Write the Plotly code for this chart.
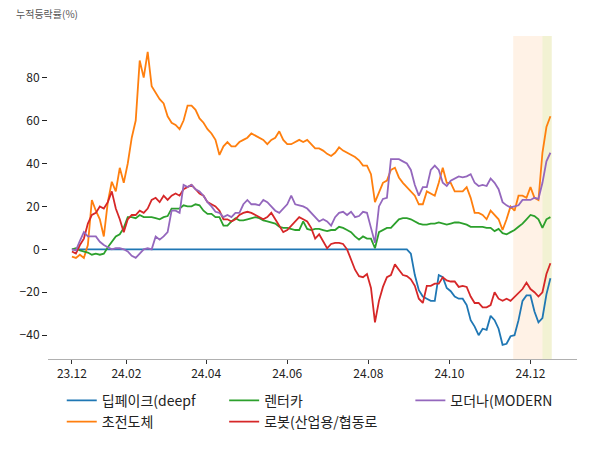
"""
Cumulative return chart by theme (Plotly)
"""
import pandas as pd
import plotly.graph_objects as go

# sample dates: every 3 days from start to end of data
dates = pd.date_range("2023-12-22", periods=121, freq="3D")

deepfake = [
    0, 0, 0, 0, 0, 0, 0, 0, 0, 0,
    0, 0, 0, 0, 0, 0, 0, 0, 0, 0,
    0, 0, 0, 0, 0, 0, 0, 0, 0, 0,
    0, 0, 0, 0, 0, 0, 0, 0, 0, 0,
    0, 0, 0, 0, 0, 0, 0, 0, 0, 0,
    0, 0, 0, 0, 0, 0, 0, 0, 0, 0,
    0, 0, 0, 0, 0, 0, 0, 0, 0, 0,
    0, 0, 0, 0, 0, 0, 0, 0, 0, 0,
    0, 0, 0, 0, 0, -2, -12, -19, -22, -23,
    -24, -24, -12, -13, -18, -19.5, -22, -23, -23, -26,
    -33, -36, -40, -37, -37.5, -31, -33, -37, -44.5, -44,
    -40.5, -40, -33, -24, -21.5, -21.5, -29, -34, -32, -21,
    -13.5,
]
superconductor = [
    -3.4, -4, -2.5, -4, 2, 23, 18, 14, 6, 22,
    31.5, 27, 38, 31, 40, 52, 60, 88, 80, 92,
    76, 73, 70, 68, 62, 59, 58, 56, 60, 67,
    67, 65, 61, 59, 56, 54, 51, 44, 48, 50,
    48, 48, 50, 51, 52, 54, 53, 52, 51, 49,
    51, 52, 55, 51, 49, 49, 50, 51, 50, 51,
    49, 47, 47, 46, 44.5, 43.5, 45, 47.5, 46, 45,
    44, 43, 41.5, 39, 39, 35, 22, 27, 31, 32,
    37, 38, 33.5, 31, 29, 27, 25, 21, 21, 27,
    26, 25, 31, 38, 31, 31, 27, 27, 27, 29,
    24, 17, 17, 16, 14, 18, 16, 14, 9, 14,
    20, 18, 25, 25, 24, 29, 24, 23, 45, 57,
    62,
]
rental_car = [
    0, 0.5, -0.5, -1, -1.5, -2.5, -2, -2.5, -2, 1,
    3.5, 6, 7, 10, 15, 15, 14.5, 16, 15, 15,
    15, 14.5, 14, 15, 15.5, 19, 19, 19, 20.5, 20,
    20, 21, 20.5, 18, 16.5, 16.5, 15, 15, 11, 11,
    13, 14.5, 13.5, 13.5, 14, 14.5, 15, 14.5, 13.5, 13,
    12.5, 12, 10.5, 10, 10, 9.5, 9, 9, 13, 9.5,
    9, 9.5, 9.5, 9, 8.5, 9, 9, 10.5, 10, 9,
    8, 6, 4.5, 6, 5, 5, 0.5, 8, 9, 10,
    10, 12, 14, 14.5, 14.5, 14, 13, 12, 11.5, 11.5,
    12, 12, 12.5, 12, 11.5, 12, 12.5, 12.5, 12, 11.5,
    10.5, 10.5, 10.5, 10.5, 10, 10, 8.5, 9.5, 7.5, 7,
    8, 9, 10.5, 12, 14, 16, 15.5, 14, 10, 14,
    15,
]
robot = [
    -1, -2, 2, 5, 12, 16, 17, 20, 19, 22,
    27, 19, 14, 8, 14, 16, 16, 18, 17, 19,
    23, 24, 22, 25, 23, 25, 26, 25, 28, 29,
    30, 28, 26, 25, 22, 21, 20, 18, 14, 14,
    13, 14, 16, 17, 17.5, 17, 16, 15, 14, 15,
    17, 14, 11, 8, 9, 11, 13.5, 15, 14, 13,
    10, 5, 7, 4, 0.5, 2.5, 3, 3, 2.5, 0,
    -5, -9.5, -12.5, -13, -11.5, -18, -34, -24, -17.5, -13,
    -12, -7, -9.5, -12, -12.5, -14, -17, -23, -25, -17,
    -17, -16, -16, -13, -14.5, -15, -15, -17.5, -17, -17.5,
    -22, -25, -25, -27, -27, -26, -20, -23, -24, -23,
    -24, -22, -20.5, -18.5, -15.5, -18.5, -20, -22, -20, -11.5,
    -6.5,
]
moderna = [
    0, -0.5, 4, 8, 6, 6, 6, 3.5, 2, 1,
    0, 0.5, 0.5, 0, -1, -3, -4, -2, 0, 0.5,
    0, 6, 4.5, 6, 8, 18, 18, 17, 30, 29,
    30, 28, 27, 25, 22, 20, 17.5, 17, 15, 16,
    15, 17, 17, 21, 23, 21, 21, 20.5, 23, 22,
    20, 18, 17, 19, 21, 25, 21, 20.5, 20, 19,
    17, 15, 13, 14, 13, 11, 15, 17, 17.5, 16,
    17.5, 15, 15.5, 17.5, 17, 10, 3, 20, 23.5, 24,
    42, 42, 42, 41, 40, 37, 30, 25, 29, 29,
    37, 39, 37, 31, 29.5, 32, 33, 34, 33.5, 34,
    35, 31, 29.5, 30, 29.5, 33, 31, 28, 22, 20.5,
    19.5, 20, 20.5, 23, 23, 23, 24, 23.5, 31, 41,
    45,
]

# series in drawing order: (name, values, colour, legend column)
series = [
    ("딥페이크(deepf", deepfake, "#1f77b4", "legend"),
    ("초전도체", superconductor, "#ff7f0e", "legend"),
    ("렌터카", rental_car, "#2ca02c", "legend2"),
    ("로봇(산업용/협동로", robot, "#d62728", "legend2"),
    ("모더나(MODERN", moderna, "#9467bd", "legend3"),
]

# highlighted periods
band_month = ("2024-11-18", "2024-12-10")
band_week = ("2024-12-10", "2024-12-17")

tick_dates = ["2023-12-22", "2024-02-01", "2024-04-01", "2024-06-01",
              "2024-08-01", "2024-10-01", "2024-12-01"]
tick_labels = ["23.12", "24.02", "24.04", "24.06", "24.08", "24.10", "24.12"]
y_ticks = [-40, -20, 0, 20, 40, 60, 80]

FONT = "Noto Sans CJK KR, Noto Sans, sans-serif"


def create_return_chart() -> go.Figure:
    """
    Line chart of cumulative returns with highlighted recent periods
    """
    fig = go.Figure()

    for name, values, color, legend in series:
        fig.add_trace(go.Scatter(
            x=dates,
            y=values,
            mode='lines',
            name=name,
            line=dict(color=color, width=1.8),
            legend=legend
        ))

    fig.add_vrect(x0=band_month[0], x1=band_month[1],
                  fillcolor='rgba(255, 127, 14, 0.1)', line_width=0, layer='below')
    fig.add_vrect(x0=band_week[0], x1=band_week[1],
                  fillcolor='rgba(188, 189, 34, 0.2)', line_width=0, layer='below')

    legend_style = dict(
        orientation='v',
        xanchor='left',
        yanchor='top',
        y=-0.08,
        font=dict(size=14, color='#222', family=FONT),
        bgcolor='rgba(0,0,0,0)',
        tracegroupgap=0
    )

    # page body adds an 8px offset, so margins are shifted by that amount
    fig.update_layout(
        width=600,
        height=450,
        margin=dict(l=40, r=31, t=28, b=99),
        plot_bgcolor='white',
        paper_bgcolor='white',
        font=dict(family=FONT, size=12, color='#222'),
        legend=dict(x=0.026, **legend_style),
        legend2=dict(x=0.333, **legend_style),
        legend3=dict(x=0.685, **legend_style),
        annotations=[dict(
            text="누적등락률(%)",
            xref='paper', yref='paper',
            x=-0.064, y=1.07,
            xanchor='left', yanchor='middle',
            showarrow=False,
            font=dict(size=10, color='#555', family=FONT)
        )],
        xaxis=dict(
            type='date',
            range=["2023-12-04", "2025-01-05"],
            tickvals=tick_dates,
            ticktext=tick_labels,
            ticks='outside',
            ticklen=4,
            tickcolor='#333',
            showline=True,
            linecolor='#b0b0b0',
            linewidth=1,
            showgrid=False,
            zeroline=False
        ),
        yaxis=dict(
            range=[-51.1, 99.4],
            tickvals=y_ticks,
            ticks='outside',
            ticklen=5,
            tickcolor='#222',
            showline=False,
            showgrid=False,
            zeroline=False
        )
    )

    return fig


fig = create_return_chart()
fig.write_html("out.html")
